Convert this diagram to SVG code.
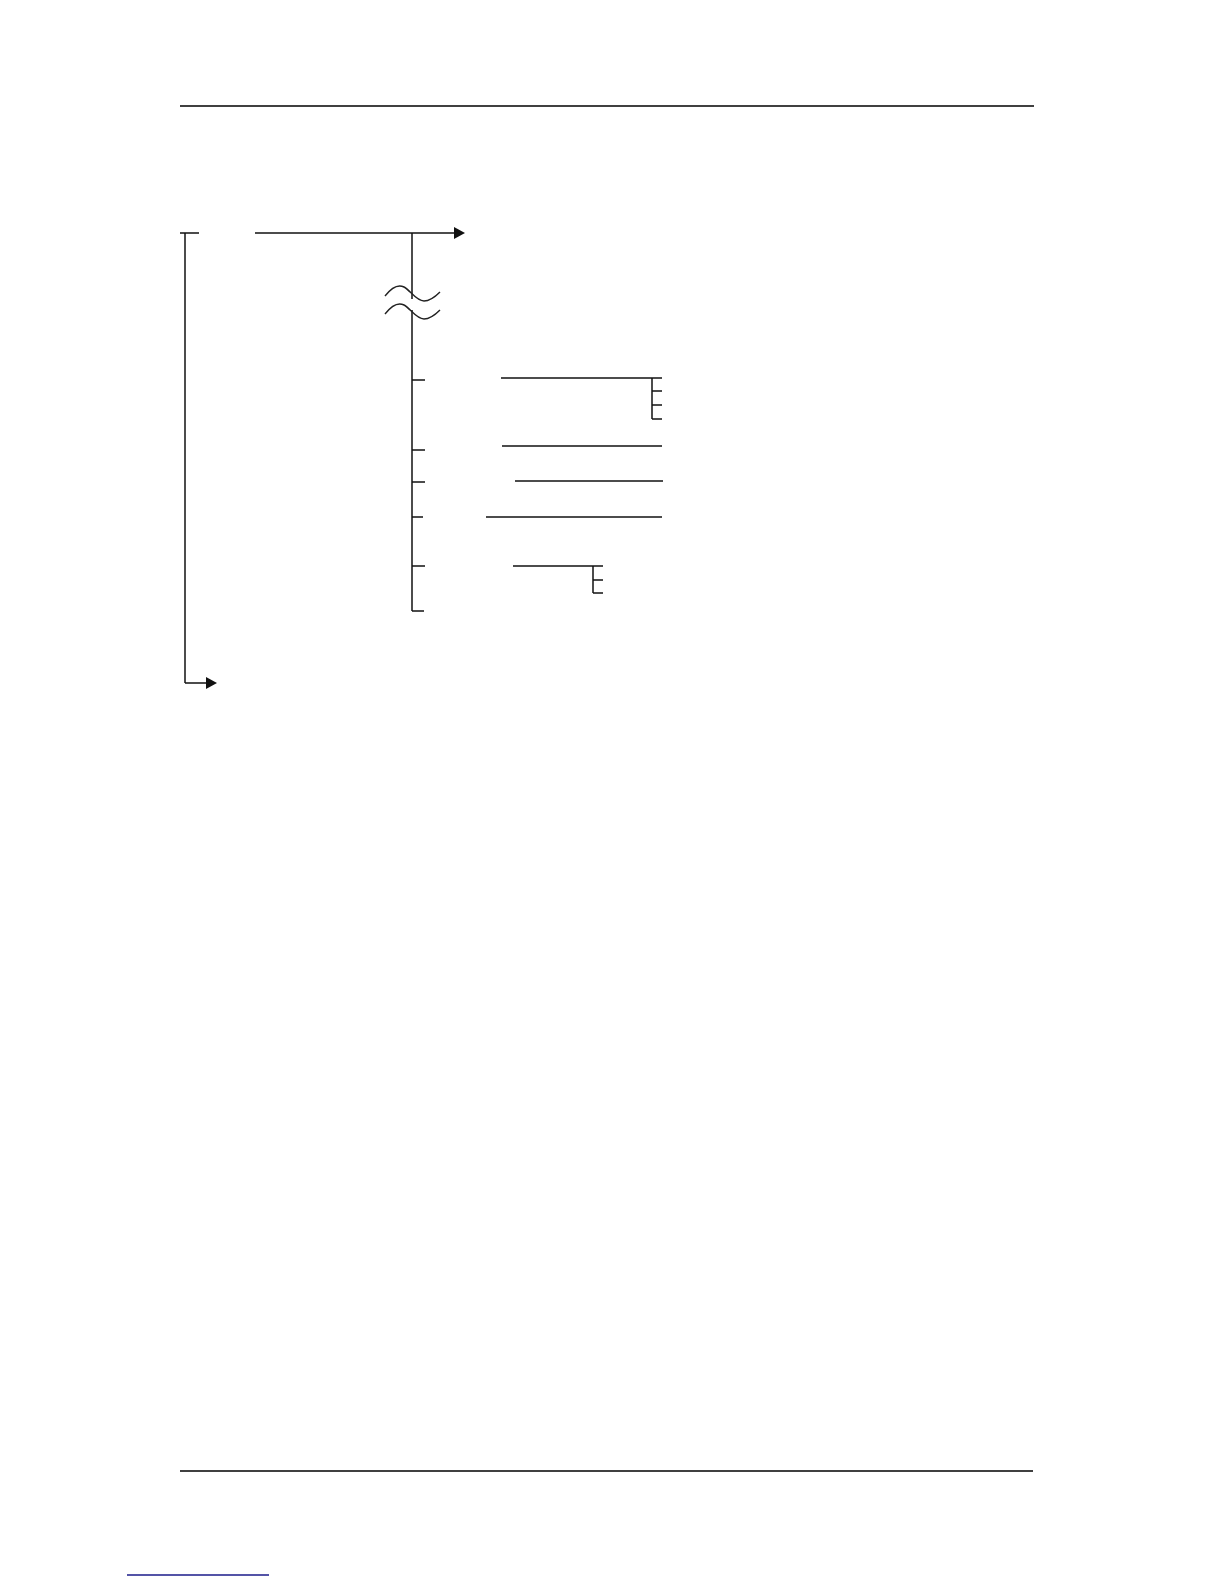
<svg xmlns="http://www.w3.org/2000/svg" width="1224" height="1584" viewBox="0 0 1224 1584">
<style>
.ln{stroke:#111;stroke-width:1.5;fill:none}
.rule{stroke:#000;stroke-width:1.5;fill:none}
.wave{stroke:#222;stroke-width:1.4;fill:none}
</style>
<defs>
<marker id="arr" markerUnits="userSpaceOnUse" markerWidth="12" markerHeight="13" refX="0" refY="6" orient="auto">
<path d="M0,0 L11,6 L0,12 z" fill="#111"/>
</marker>
</defs>
<rect width="1224" height="1584" fill="#fff"/>
<g id="page-rules">
<line class="rule" x1="180" y1="106" x2="1034" y2="106"/>
<line class="rule" x1="180" y1="1471" x2="1033" y2="1471"/>
<line x1="127" y1="1575" x2="269" y2="1575" stroke="#1b1b8a" stroke-width="1.5"/>
</g>
<g id="connectors">
<line class="ln" x1="180" y1="233" x2="199" y2="233"/>
<line class="ln" x1="185" y1="233" x2="185" y2="683"/>
<line class="ln" x1="185" y1="683" x2="206" y2="683" marker-end="url(#arr)"/>
<line class="ln" x1="255" y1="233" x2="454" y2="233" marker-end="url(#arr)"/>
<line class="ln" x1="412" y1="233" x2="412" y2="299"/>
<line class="ln" x1="412" y1="310" x2="412" y2="611"/>
<path class="wave" d="M385,296 C392,287 398,284 404,287 C410,290 416,301 424,301 C430,301 436,296 440,292"/>
<path class="wave" d="M385,314 C392,305 398,302 404,305 C410,308 416,319 424,319 C430,319 436,314 440,310"/>
</g>
<g id="branch1">
<line class="ln" x1="412" y1="380" x2="425" y2="380"/>
<line class="ln" x1="501" y1="378" x2="662" y2="378"/>
<line class="ln" x1="652" y1="378" x2="652" y2="419"/>
<line class="ln" x1="652" y1="391" x2="662" y2="391"/>
<line class="ln" x1="652" y1="405" x2="662" y2="405"/>
<line class="ln" x1="652" y1="419" x2="662" y2="419"/>
</g>
<g id="branch2">
<line class="ln" x1="412" y1="450" x2="425" y2="450"/>
<line class="ln" x1="502" y1="446" x2="662" y2="446"/>
</g>
<g id="branch3">
<line class="ln" x1="412" y1="482" x2="425" y2="482"/>
<line class="ln" x1="515" y1="481" x2="663" y2="481"/>
</g>
<g id="branch4">
<line class="ln" x1="412" y1="517" x2="423" y2="517"/>
<line class="ln" x1="486" y1="517" x2="662" y2="517"/>
</g>
<g id="branch5">
<line class="ln" x1="412" y1="566" x2="425" y2="566"/>
<line class="ln" x1="513" y1="566" x2="603" y2="566"/>
<line class="ln" x1="593" y1="566" x2="593" y2="593"/>
<line class="ln" x1="593" y1="580" x2="603" y2="580"/>
<line class="ln" x1="593" y1="593" x2="603" y2="593"/>
</g>
<g id="branch6">
<line class="ln" x1="412" y1="611" x2="424" y2="611"/>
</g>
</svg>
